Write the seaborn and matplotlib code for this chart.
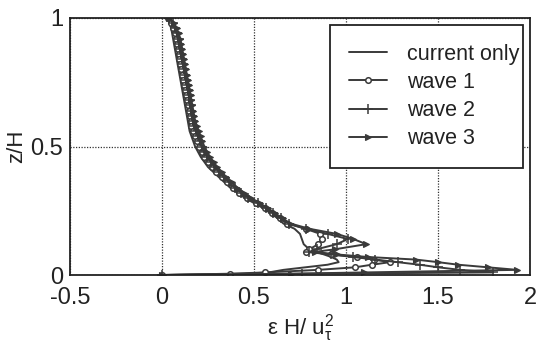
import matplotlib
matplotlib.use("Agg")
import matplotlib.pyplot as plt
import seaborn as sns
import pandas as pd

# ---- data -------------------------------------------------------------
z_levels = [1.00, 0.98, 0.96, 0.94, 0.92, 0.90, 0.88, 0.86, 0.84, 0.82,
            0.80, 0.78, 0.76, 0.74, 0.72, 0.70, 0.68, 0.66, 0.64, 0.62,
            0.60, 0.58, 0.56, 0.54, 0.52, 0.50, 0.48, 0.46, 0.44, 0.42,
            0.40, 0.38, 0.36, 0.34, 0.32, 0.30, 0.28, 0.26, 0.24, 0.22,
            0.20, 0.18, 0.16, 0.14, 0.12, 0.10, 0.09, 0.08, 0.07, 0.06,
            0.05, 0.04, 0.03, 0.02, 0.01, 0.005, 0.0]

eps_current = [0.03, 0.04, 0.05, 0.055, 0.06, 0.065, 0.07, 0.075, 0.08, 0.085,
               0.09, 0.095, 0.10, 0.105, 0.11, 0.115, 0.12, 0.125, 0.13, 0.135,
               0.14, 0.145, 0.15, 0.16, 0.17, 0.18, 0.195, 0.21, 0.23, 0.25,
               0.28, 0.31, 0.34, 0.37, 0.41, 0.45, 0.50, 0.55, 0.59, 0.63,
               0.66, 0.72, 0.75, 0.76, 0.77, 0.80, 0.84, 0.88, 0.92, 0.95,
               0.96, 0.90, 0.78, 0.66, 0.58, 0.45, 0.0]

eps_wave1 = [0.03, 0.05, 0.06, 0.07, 0.075, 0.08, 0.085, 0.09, 0.095, 0.10,
             0.105, 0.11, 0.115, 0.12, 0.125, 0.13, 0.135, 0.14, 0.145, 0.15,
             0.155, 0.16, 0.17, 0.18, 0.19, 0.20, 0.215, 0.23, 0.25, 0.27,
             0.295, 0.325, 0.355, 0.385, 0.42, 0.46, 0.51, 0.56, 0.60, 0.64,
             0.68, 0.78, 0.86, 0.87, 0.85, 0.80, 0.78, 0.92, 1.06, 1.15,
             1.24, 1.14, 1.05, 0.85, 0.56, 0.37, 0.0]

eps_wave2 = [0.04, 0.06, 0.07, 0.08, 0.09, 0.095, 0.10, 0.105, 0.11, 0.115,
             0.12, 0.125, 0.13, 0.135, 0.14, 0.145, 0.15, 0.155, 0.16, 0.165,
             0.17, 0.175, 0.185, 0.195, 0.205, 0.215, 0.23, 0.245, 0.265, 0.285,
             0.31, 0.335, 0.365, 0.395, 0.43, 0.47, 0.52, 0.565, 0.605, 0.645,
             0.69, 0.78, 0.90, 1.01, 0.95, 0.84, 0.80, 0.92, 1.04, 1.16,
             1.28, 1.40, 1.50, 1.62, 1.80, 0.76, 0.0]

eps_wave3 = [0.04, 0.065, 0.08, 0.09, 0.10, 0.105, 0.11, 0.115, 0.12, 0.125,
             0.13, 0.135, 0.14, 0.145, 0.15, 0.155, 0.16, 0.165, 0.17, 0.175,
             0.18, 0.19, 0.20, 0.21, 0.22, 0.23, 0.245, 0.26, 0.28, 0.30,
             0.325, 0.35, 0.38, 0.41, 0.445, 0.485, 0.53, 0.575, 0.615, 0.655,
             0.70, 0.80, 0.95, 1.04, 1.11, 0.94, 0.83, 0.95, 1.12, 1.38,
             1.50, 1.61, 1.77, 1.93, 1.10, 0.70, 0.0]

series_names = ["current only", "wave 1", "wave 2", "wave 3"]
x_ticks = [-0.5, 0, 0.5, 1, 1.5, 2]
x_tick_labels = ["-0.5", "0", "0.5", "1", "1.5", "2"]
y_ticks = [0, 0.5, 1]
y_tick_labels = ["0", "0.5", "1"]

# ---- styling -----------------------------------------------------------
sns.set_theme(style="white")
plt.rcParams["font.family"] = ["Liberation Sans", "DejaVu Sans"]
plt.rcParams["mathtext.fontset"] = "custom"
plt.rcParams["mathtext.rm"] = "Liberation Sans"
plt.rcParams["mathtext.it"] = "Liberation Sans"
plt.rcParams["axes.unicode_minus"] = False

ink = "#3a3a3a"

fig = plt.figure(figsize=(5.41, 3.55), dpi=100)
ax = fig.add_axes([70 / 541, 1 - 275 / 355, 460 / 541, 257 / 355])

styles = [
    dict(marker=None),
    dict(marker="o", markersize=4, markerfacecolor="white",
         markeredgecolor=ink, markeredgewidth=1.1),
    dict(marker="+", markersize=7, markeredgecolor=ink, markeredgewidth=1.1),
    dict(marker=">", markersize=5, markerfacecolor=ink,
         markeredgecolor=ink, markeredgewidth=0.8),
]
all_eps = [eps_current, eps_wave1, eps_wave2, eps_wave3]

for name, eps, st in zip(series_names, all_eps, styles):
    df = pd.DataFrame({"eps": eps, "z": z_levels})
    kw = {k: v for k, v in st.items() if v is not None}
    sns.lineplot(data=df, x="eps", y="z", sort=False, estimator=None,
                 color=ink, linewidth=1.4, ax=ax, label=name, **kw)

ax.set_xlim(-0.5, 2)
ax.set_ylim(0, 1)
ax.set_xticks(x_ticks)
ax.set_xticklabels(x_tick_labels)
ax.set_yticks(y_ticks)
ax.set_yticklabels(y_tick_labels)
ax.tick_params(axis="both", labelsize=17, length=0, colors="#222222")
ax.tick_params(axis="x", pad=9)
ax.tick_params(axis="y", pad=5)

ax.grid(True, color="#333333", linestyle=(0, (1, 1.2)), linewidth=0.9)
for sp in ax.spines.values():
    sp.set_visible(True)
    sp.set_color("#222222")
    sp.set_linewidth(1.3)

ax.set_xlabel("ε H/ u$_\\tau^2$", fontsize=16, color="#222222", labelpad=2)
ax.set_ylabel("z/H", fontsize=16, color="#222222", labelpad=2)

leg = ax.legend(loc="upper left",
                bbox_to_anchor=(330 / 541, 1 - 25 / 355, 193 / 541, 0.0),
                bbox_transform=fig.transFigure, mode="expand",
                borderaxespad=0, fontsize=15.5, frameon=True, fancybox=False,
                handlelength=1.8, handletextpad=0.9, labelspacing=0.34,
                borderpad=0.86, numpoints=1)
leg.get_frame().set_edgecolor("#222222")
leg.get_frame().set_linewidth(1.3)
leg.get_frame().set_alpha(1)
for t in leg.get_texts():
    t.set_color("#222222")

fig.savefig("out.png", dpi=100)
